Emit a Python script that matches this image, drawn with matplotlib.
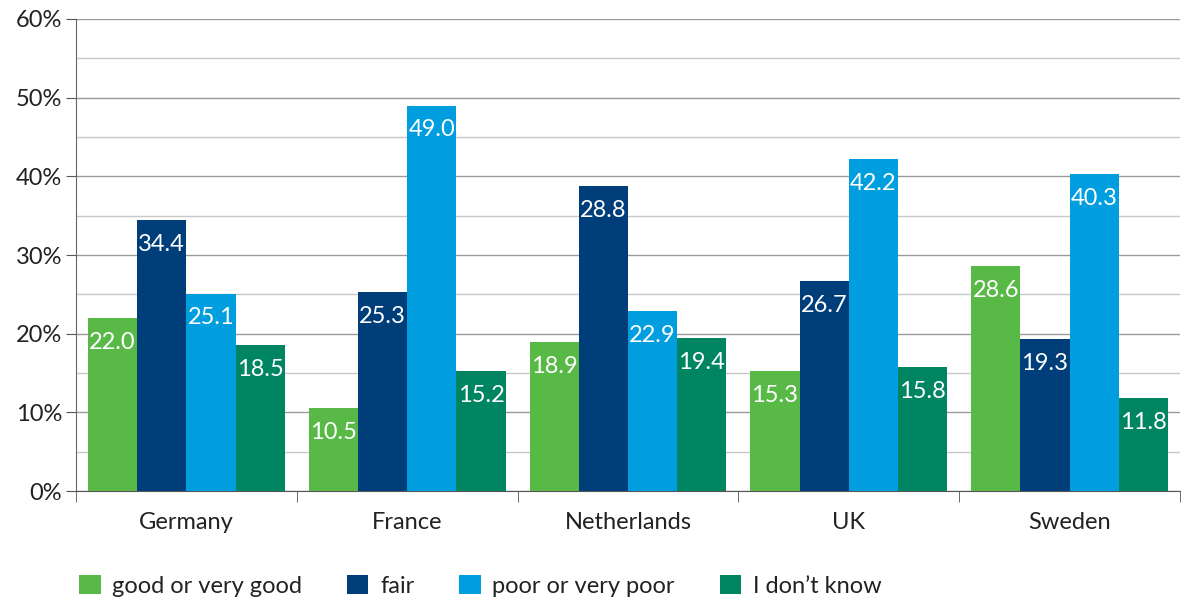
import matplotlib
matplotlib.use("Agg")
import matplotlib.pyplot as plt
import numpy as np
from matplotlib.ticker import FuncFormatter, MultipleLocator

# Chart data
COUNTRIES = ["Germany", "France", "Netherlands", "UK", "Sweden"]
SERIES = ["good or very good", "fair", "poor or very poor", "I don\u2019t know"]
# bar heights as drawn
GOOD = [22.0, 10.5, 18.9, 15.3, 28.6]
FAIR = [34.4, 25.3, 38.8, 26.7, 19.3]
POOR = [25.1, 49.0, 22.9, 42.2, 40.3]
DONT_KNOW = [18.5, 15.2, 19.4, 15.8, 11.8]
# value labels as printed
GOOD_LABELS = ["22.0", "10.5", "18.9", "15.3", "28.6"]
FAIR_LABELS = ["34.4", "25.3", "28.8", "26.7", "19.3"]
POOR_LABELS = ["25.1", "49.0", "22.9", "42.2", "40.3"]
DONT_KNOW_LABELS = ["18.5", "15.2", "19.4", "15.8", "11.8"]

COLORS = ["#58b947", "#003e7a", "#009ede", "#008562"]

plt.rcParams["font.family"] = ["Lato", "DejaVu Sans"]

fig = plt.figure(figsize=(11.84, 6.03), dpi=100)
ax = fig.add_axes([0.0642, 0.1857, 0.9324, 0.7828])

values = [GOOD, FAIR, POOR, DONT_KNOW]
labels = [GOOD_LABELS, FAIR_LABELS, POOR_LABELS, DONT_KNOW_LABELS]
x = np.arange(len(COUNTRIES))
width = 0.223
offsets = (np.arange(4) - 1.5) * width

for i, (vals, labs) in enumerate(zip(values, labels)):
    bars = ax.bar(x + offsets[i], vals, width, color=COLORS[i], label=SERIES[i], zorder=3)
    for b, lab in zip(bars, labs):
        ax.annotate(lab, (b.get_x() + b.get_width() / 2, b.get_height()),
                    xytext=(0, -10), textcoords="offset points",
                    ha="center", va="top", color="white", fontsize=17, zorder=4)

ax.set_xlim(-0.5, len(COUNTRIES) - 0.5)
ax.set_ylim(0, 60)
ax.yaxis.set_major_locator(MultipleLocator(10))
ax.yaxis.set_minor_locator(MultipleLocator(5))
ax.yaxis.set_major_formatter(FuncFormatter(lambda v, p: f"{v:.0f}%"))
ax.grid(axis="y", which="major", color="#9a9a9a", linewidth=1.0, zorder=0)
ax.grid(axis="y", which="minor", color="#c8c8c8", linewidth=1.0, zorder=0)
ax.tick_params(axis="y", which="major", length=7, color="#555555", labelsize=17,
               labelcolor="#222222", pad=3)
ax.tick_params(axis="y", which="minor", length=0)

ax.set_xticks(x)
ax.set_xticklabels(COUNTRIES)
ax.set_xticks(np.arange(-0.5, len(COUNTRIES)), minor=True)
ax.tick_params(axis="x", which="major", length=0, labelsize=17, labelcolor="#222222", pad=15)
ax.tick_params(axis="x", which="minor", length=8, color="#555555")

for side in ["top", "right"]:
    ax.spines[side].set_visible(False)
ax.spines["left"].set_color("#666666")
ax.spines["bottom"].set_color("#555555")

fig.legend(loc="lower left", bbox_to_anchor=(0.049, -0.025), ncol=4, frameon=False,
           fontsize=17, handlelength=0.9, handleheight=0.9, handletextpad=0.5,
           columnspacing=1.9, labelcolor="#222222")

fig.savefig("out.png", dpi=100)
